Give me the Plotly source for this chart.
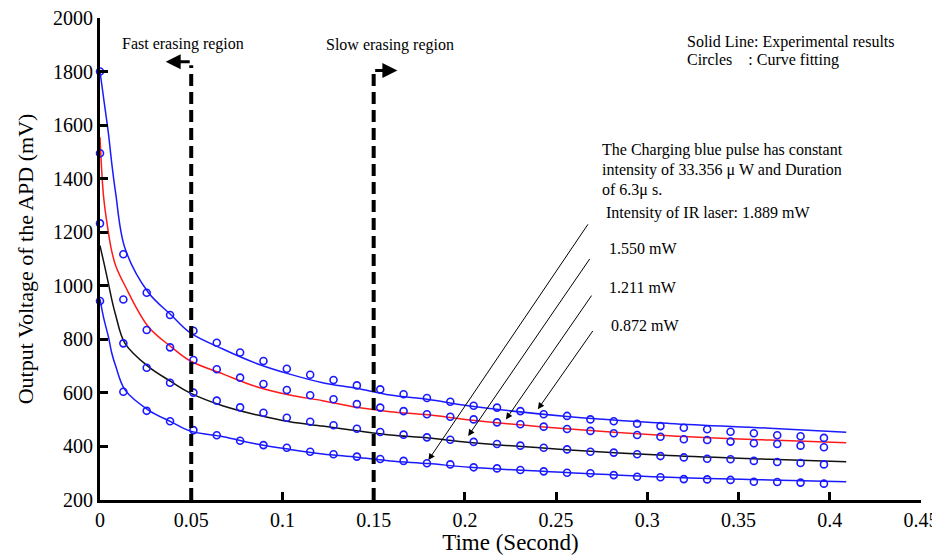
import plotly.graph_objects as go

# ---------------- data ----------------
# experimental curves
t_exp = [0, 0.002, 0.0046, 0.0064, 0.0086, 0.0137, 0.0265, 0.039, 0.0493, 0.0676,
         0.0858, 0.104, 0.122, 0.1406, 0.159, 0.18, 0.2027, 0.2575, 0.312, 0.367, 0.409]
exp_1889 = [1800, 1700, 1570, 1460, 1345, 1140, 975, 891, 825, 763,
            710, 670, 638, 617, 592, 575, 551, 511, 486, 468, 453]
exp_1550 = [1555, 1330, 1200, 1130, 1075, 1000, 847, 772, 720, 670,
            623, 592, 571, 546, 530, 518, 499, 465, 440, 424, 414]
exp_1211 = [1150, 1090, 1009, 950, 890, 785, 698, 642, 600, 551,
            518, 492, 476, 459, 443, 432, 415, 387, 366, 352, 343]
exp_0872 = [950, 880, 810, 750, 700, 611, 536, 492, 458, 436,
            409, 389, 372, 360, 346, 336, 322, 302, 285, 275, 268]

# curve fitting circles
t_fit = [0.0, 0.0128, 0.0256, 0.0384, 0.0512, 0.064, 0.0768, 0.0896, 0.1024, 0.1152,
         0.128, 0.1408, 0.1536, 0.1664, 0.1792, 0.192, 0.2048, 0.2176, 0.2304, 0.2432,
         0.256, 0.2688, 0.2816, 0.2944, 0.3072, 0.32, 0.3328, 0.3456, 0.3584, 0.3712,
         0.384, 0.3968]
fit_1889 = [1800, 1118, 974, 891, 832, 787, 751, 719, 690, 668,
            648, 628, 613, 595, 581, 567, 552, 545, 532, 520,
            514, 501, 494, 485, 476, 470, 464, 455, 449, 442,
            438, 432]
fit_1550 = [1495, 949, 835, 770, 723, 688, 657, 633, 611, 591,
            576, 558, 545, 532, 520, 511, 501, 490, 483, 474,
            465, 458, 449, 443, 436, 427, 424, 418, 412, 409,
            403, 397]
fit_1211 = [1233, 785, 694, 638, 601, 571, 546, 526, 507, 492,
            479, 466, 454, 444, 434, 425, 417, 409, 403, 395,
            389, 380, 377, 371, 364, 359, 354, 352, 346, 342,
            338, 333]
fit_0872 = [943, 604, 533, 494, 461, 442, 421, 405, 395, 380,
            371, 362, 353, 346, 337, 333, 322, 318, 312, 307,
            302, 300, 293, 287, 285, 278, 277, 275, 268, 267,
            265, 261]

x_ticks = [0, 0.05, 0.1, 0.15, 0.2, 0.25, 0.3, 0.35, 0.4, 0.45]
y_ticks = [200, 400, 600, 800, 1000, 1200, 1400, 1600, 1800, 2000]

# annotation arrows: (label, tail t, tail mV, head t, head mV)
arrow_labels = ["Intensity of IR laser: 1.889 mW", "1.550 mW", "1.211 mW", "0.872 mW"]
arrow_tail_t = [0.268, 0.269, 0.270, 0.2707]
arrow_tail_v = [1235, 1106, 969, 837]
arrow_head_t = [0.180, 0.2018, 0.2225, 0.240]
arrow_head_v = [349, 439, 501, 539]
label_t = [0.276, 0.278, 0.278, 0.279]
label_v = [1272, 1141, 995, 850]

BLUE = "#1a1aff"
SERIF = "Liberation Serif, Times New Roman, serif"

fig = go.Figure()
for ys, col in [(exp_1889, BLUE), (exp_1550, "#ff1a1a"), (exp_1211, "#111111"), (exp_0872, BLUE)]:
    fig.add_trace(go.Scatter(x=t_exp, y=ys, mode="lines", line=dict(color=col, width=1.5, shape="spline"),
                             showlegend=False, hoverinfo="skip"))
for ys in [fit_1889, fit_1550, fit_1211, fit_0872]:
    fig.add_trace(go.Scatter(x=t_fit, y=ys, mode="markers",
                             marker=dict(symbol="circle-open", size=7, color=BLUE, line=dict(width=1.6)),
                             cliponaxis=False, showlegend=False, hoverinfo="skip"))

# dashed region separators
fig.add_shape(type="line", x0=0.05, x1=0.05, y0=200, y1=1824,
              line=dict(color="black", width=4, dash="12px,6px"))
fig.add_shape(type="line", x0=0.15, x1=0.15, y0=200, y1=1793,
              line=dict(color="black", width=4, dash="12px,6px"))

anns = []
# region arrows
anns.append(dict(x=0.036, y=1837, ax=0.05, ay=1837, xref="x", yref="y", axref="x", ayref="y",
                 text="", showarrow=True, arrowhead=2, arrowsize=1, arrowwidth=3, arrowcolor="black"))
anns.append(dict(x=0.163, y=1804, ax=0.15, ay=1804, xref="x", yref="y", axref="x", ayref="y",
                 text="", showarrow=True, arrowhead=2, arrowsize=1, arrowwidth=3, arrowcolor="black"))
anns.append(dict(x=0.0455, y=1903, text="Fast erasing region", showarrow=False,
                 font=dict(family=SERIF, size=16, color="black")))
anns.append(dict(x=0.159, y=1899, text="Slow erasing region", showarrow=False,
                 font=dict(family=SERIF, size=16, color="black")))
# legend text
anns.append(dict(x=0.3205, y=1910, text="Solid Line: Experimental results", showarrow=False,
                 xanchor="left", font=dict(family=SERIF, size=16, color="black")))
anns.append(dict(x=0.3205, y=1843, text="Circles\u00a0\u00a0\u00a0\u00a0: Curve fitting", showarrow=False,
                 xanchor="left", font=dict(family=SERIF, size=16, color="black")))
# block text
for txt, v in [("The Charging blue pulse has constant", 1507),
               ("intensity of 33.356 \u03bc W and Duration", 1432),
               ("of 6.3\u03bc s.", 1358)]:
    anns.append(dict(x=0.274, y=v, text=txt, showarrow=False, xanchor="left",
                     font=dict(family=SERIF, size=16, color="black")))
for lab, tt, tv, ht, hv, lt, lv in zip(arrow_labels, arrow_tail_t, arrow_tail_v, arrow_head_t,
                                       arrow_head_v, label_t, label_v):
    anns.append(dict(x=ht, y=hv, ax=tt, ay=tv, xref="x", yref="y", axref="x", ayref="y",
                     text="", showarrow=True, arrowhead=2, arrowsize=1.3, arrowwidth=1, arrowcolor="black"))
    anns.append(dict(x=lt, y=lv, text=lab, showarrow=False, xanchor="left",
                     font=dict(family=SERIF, size=16, color="black")))

fig.update_layout(
    width=932, height=547,
    margin=dict(l=92, r=19, t=10, b=55, autoexpand=False),
    plot_bgcolor="white", paper_bgcolor="white",
    annotations=anns,
    xaxis=dict(range=[0, 0.45], tickvals=x_ticks, ticktext=[("%g" % v) for v in x_ticks],
               automargin=False, ticklabeloverflow="allow",
               showgrid=False, zeroline=False, showline=True, linecolor="black", linewidth=3,
               ticks="inside", ticklen=8, tickwidth=3, tickcolor="black",
               tickfont=dict(family=SERIF, size=20, color="black"),
               title=dict(text="Time (Second)", font=dict(family=SERIF, size=23, color="black"), standoff=8)),
    yaxis=dict(range=[200, 2000], tickvals=y_ticks, ticktext=[str(v) for v in y_ticks],
               automargin=False, ticklabeloverflow="allow",
               showgrid=False, zeroline=False, showline=True, linecolor="black", linewidth=3,
               ticks="inside", ticklen=8, tickwidth=3, tickcolor="black",
               tickfont=dict(family=SERIF, size=20, color="black"),
               title=dict(text="Output Voltage of the APD (mV)", font=dict(family=SERIF, size=22, color="black"), standoff=14)),
)

fig.write_html("out.html")
